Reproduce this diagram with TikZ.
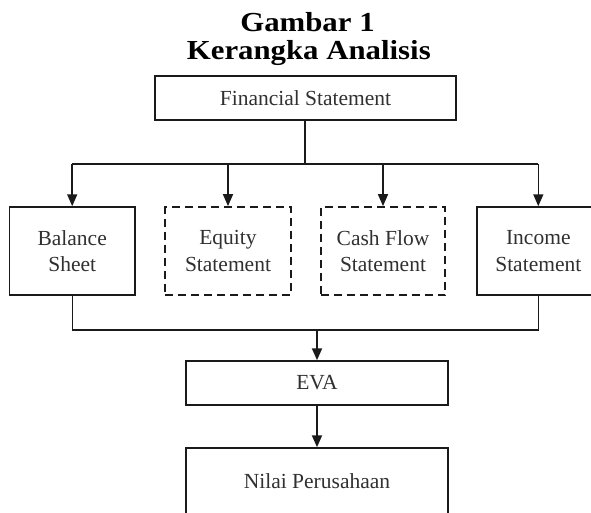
\documentclass[tikz,border=0pt]{standalone}
\usepackage{fontspec}
\setmainfont{Liberation Serif}
\usetikzlibrary{arrows.meta}
\definecolor{txt}{HTML}{303030}
\definecolor{ln}{HTML}{1A1A1A}
\tikzset{
  box/.style={draw=ln, line width=1.5pt, inner sep=0pt, align=center, text=txt,
    font=\fontsize{21.5}{26.7}\selectfont},
  dbox/.style={box, dash pattern=on 8pt off 5pt, line width=1.7pt},
  conn/.style={draw=ln, line width=1.5pt},
  arr/.style={conn, -{Triangle[length=12pt,width=10pt]}},
  ttl/.style={font=\fontsize{27.5}{27.6}\selectfont\bfseries, anchor=base, inner sep=0pt,
    xscale=1.12, transform shape}
}
\begin{document}
\begin{tikzpicture}[x=1pt, y=-1pt]
\useasboundingbox (0,0) rectangle (591,513);
\node[ttl] (t1) at (307.5,31.7) {Gambar 1};
\node[ttl] (t2) at (308.8,59.3) {Kerangka Analisis};
\node[box, minimum width=301pt, minimum height=44pt] (fs) at (305.5,98) {Financial Statement};
\node[box, minimum width=125.7pt, minimum height=88pt] (bs) at (72.2,251) {Balance\\Sheet};
\node[dbox, minimum width=125.7pt, minimum height=88pt] (eq) at (228,251) {Equity\\Statement};
\node[dbox, minimum width=124.6pt, minimum height=88pt] (cf) at (383,251) {Cash Flow\\Statement};
\node[box, minimum width=122.6pt, minimum height=88pt] (is) at (538.3,251) {Income\\Statement};
\node[box, minimum width=262pt, minimum height=44pt] (eva) at (317,383) {EVA};
\node[box, minimum width=262pt, minimum height=66pt] (nv) at (317,481) {Nilai Perusahaan};
\coordinate (jt) at (305,164);
\coordinate (jb) at (317,330);
\draw[conn, line width=2.6pt] (fs.south -| jt) -- (jt);
\draw[conn] (bs.north |- jt) -- (is.north |- jt);
\draw[arr] (bs.north |- jt) -- (bs.north);
\draw[arr] (eq.north |- jt) -- (eq.north);
\draw[arr] (cf.north |- jt) -- (cf.north);
\draw[arr] (is.north |- jt) -- (is.north);
\draw[conn, line width=1.3pt] (bs.south) |- (jb) -| (is.south);
\draw[arr, line width=2pt] (jb) -- (eva.north);
\draw[arr, line width=2pt] (eva.south) -- (nv.north);
\end{tikzpicture}
\end{document}
